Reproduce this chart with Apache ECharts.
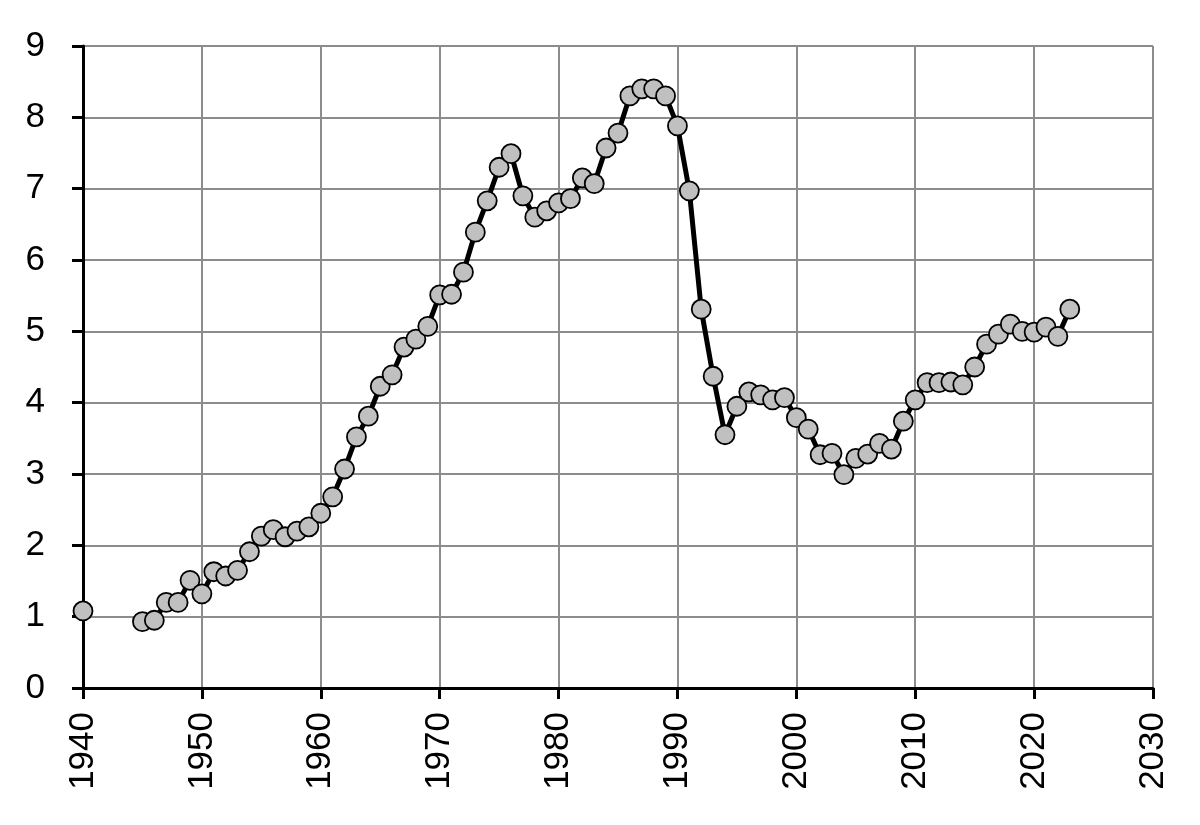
<!DOCTYPE html>
<html>
<head>
<meta charset="utf-8">
<script src="https://cdn.jsdelivr.net/npm/echarts@6/dist/echarts.min.js"></script>
<style>html,body{margin:0;padding:0;background:#fff}#c{width:1200px;height:825px}</style>
</head>
<body>
<div id="c"></div>
<script>
const years = [1940,1941,1942,1943,1944,1945,1946,1947,1948,1949,
  1950,1951,1952,1953,1954,1955,1956,1957,1958,1959,
  1960,1961,1962,1963,1964,1965,1966,1967,1968,1969,
  1970,1971,1972,1973,1974,1975,1976,1977,1978,1979,
  1980,1981,1982,1983,1984,1985,1986,1987,1988,1989,
  1990,1991,1992,1993,1994,1995,1996,1997,1998,1999,
  2000,2001,2002,2003,2004,2005,2006,2007,2008,2009,
  2010,2011,2012,2013,2014,2015,2016,2017,2018,2019,
  2020,2021,2022,2023];
const values = [1.08,null,null,null,null,0.93,0.95,1.20,1.20,1.51,
  1.32,1.63,1.57,1.65,1.91,2.13,2.22,2.12,2.20,2.26,
  2.45,2.68,3.07,3.52,3.81,4.23,4.39,4.78,4.89,5.07,
  5.51,5.52,5.83,6.39,6.83,7.30,7.49,6.90,6.60,6.69,
  6.80,6.86,7.15,7.07,7.57,7.78,8.30,8.40,8.40,8.30,
  7.88,6.97,5.31,4.37,3.55,3.95,4.15,4.11,4.04,4.07,
  3.79,3.63,3.27,3.29,2.99,3.22,3.28,3.43,3.35,3.74,
  4.04,4.28,4.28,4.29,4.25,4.50,4.82,4.96,5.10,5.00,
  4.99,5.06,4.93,5.31];
const xTicks = {min:1940, max:2030, step:10};
const yTicks = {min:0, max:9, step:1};

const data = years.map((y,i)=>[y, values[i] === null ? '-' : values[i]]);
const font = 'Liberation Sans';
const chart = echarts.init(document.getElementById('c'), null, {renderer:'canvas'});
chart.setOption({
  animation:false,
  backgroundColor:'#fff',
  grid:{left:83, right:47, top:46, bottom:137, containLabel:false},
  xAxis:{
    type:'value', min:xTicks.min, max:xTicks.max, interval:xTicks.step,
    axisLine:{show:true, onZero:false, lineStyle:{color:'#000', width:3}},
    axisTick:{show:true, inside:false, length:11, lineStyle:{color:'#000', width:3}},
    splitLine:{show:true, lineStyle:{color:'#8c8c8c', width:2}},
    axisLabel:{rotate:90, margin:24, color:'#000', fontSize:35, fontFamily:font, formatter:v=>String(v)}
  },
  yAxis:{
    type:'value', min:yTicks.min, max:yTicks.max, interval:yTicks.step,
    axisLine:{show:true, onZero:false, lineStyle:{color:'#000', width:3}},
    axisTick:{show:true, inside:false, length:11, lineStyle:{color:'#000', width:3}},
    splitLine:{show:true, lineStyle:{color:'#8c8c8c', width:2}},
    axisLabel:{margin:38, color:'#000', fontSize:35, fontFamily:font}
  },
  series:[{
    type:'line', data:data, connectNulls:false,
    symbol:'circle', symbolSize:19, showAllSymbol:true,
    lineStyle:{color:'#000', width:5},
    itemStyle:{color:'#c0c0c0', borderColor:'#000', borderWidth:1.8},
    z:3
  }]
});
</script>
</body>
</html>
